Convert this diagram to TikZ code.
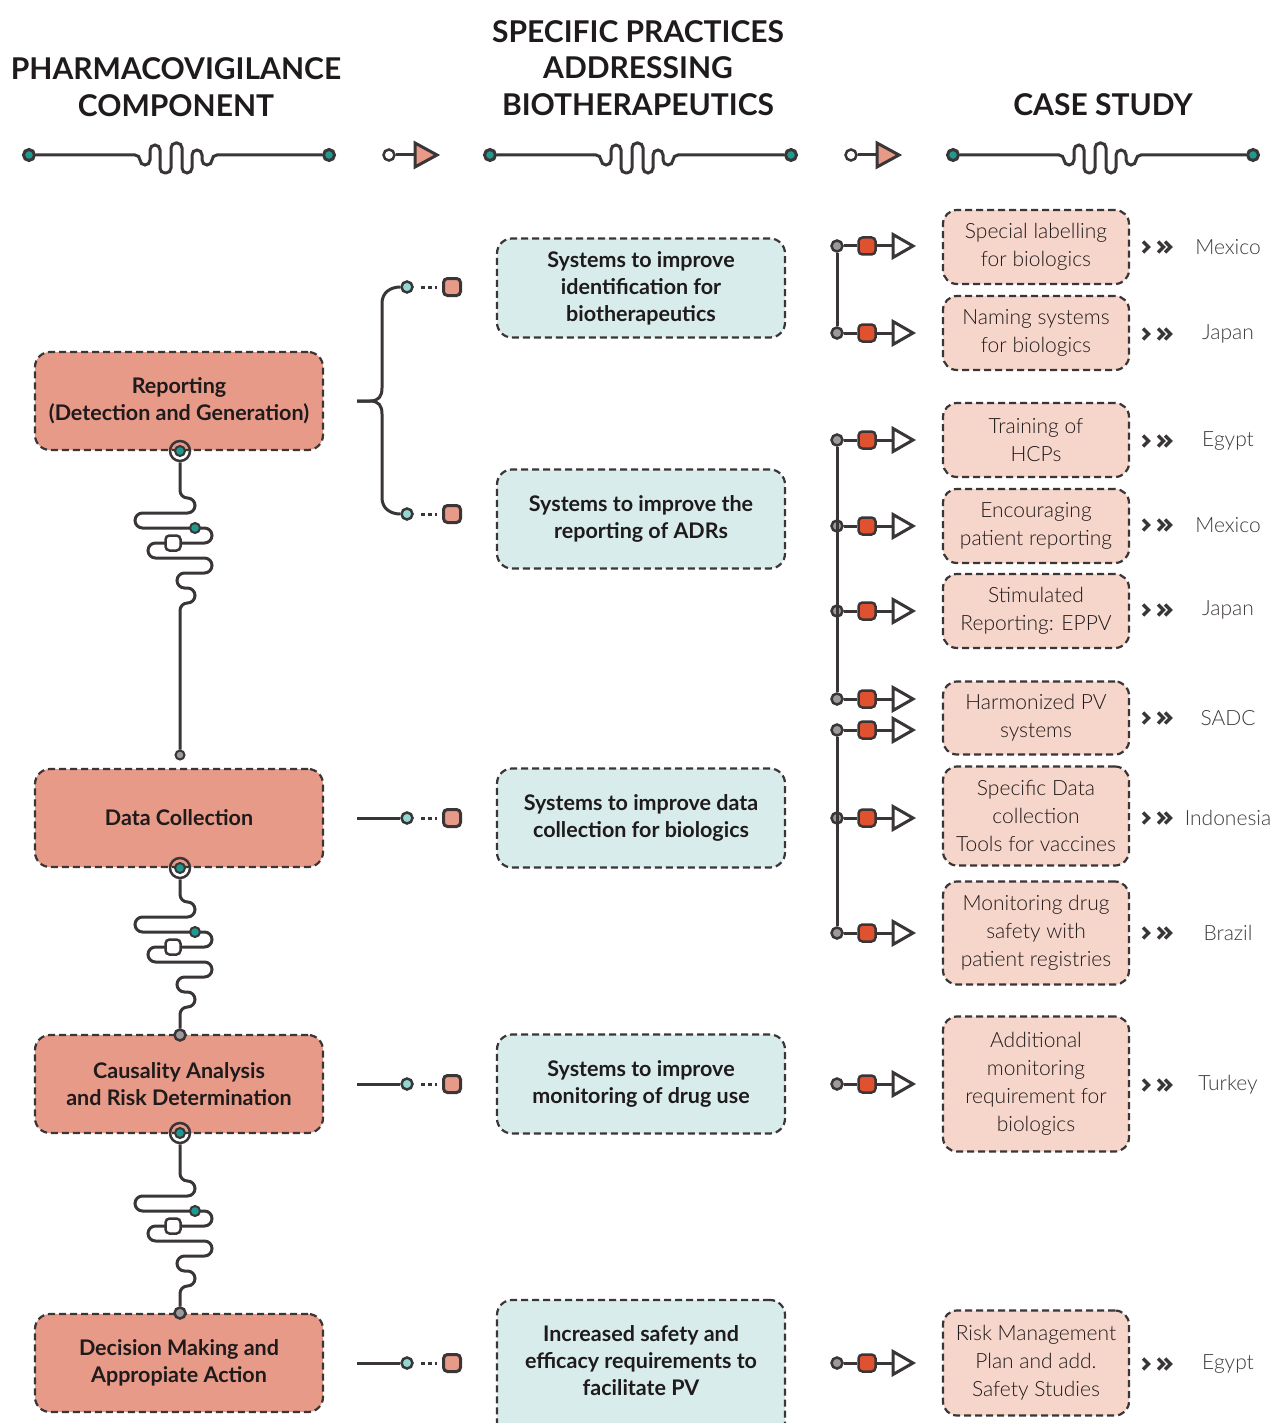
\documentclass[tikz,border=0pt]{standalone}
\usepackage{fontspec}
\setmainfont{Lato}
\newfontfamily\lightfont{Lato Light}
\definecolor{ink}{HTML}{3A3536}
\definecolor{txt}{HTML}{1F1A1B}
\definecolor{soft}{HTML}{3F3A3B}
\definecolor{salmon}{HTML}{E89A88}
\definecolor{blush}{HTML}{F6D5CA}
\definecolor{mint}{HTML}{D8EDEB}
\definecolor{teal}{HTML}{1E9A8F}
\definecolor{lteal}{HTML}{92D7D1}
\definecolor{redsq}{HTML}{E0522F}
\definecolor{greyd}{HTML}{9C9A9C}
\begin{document}
\begin{tikzpicture}[x=1pt,y=-1pt,
  wire/.style={draw=ink,line width=3pt},
  boxbase/.style={draw=ink,line width=2.2pt,dash pattern=on 7pt off 4pt,
    align=center,inner sep=0pt,text=txt},
  boldtext/.style={font=\bfseries\fontsize{21.5}{27}\selectfont},
  lbox/.style={boxbase,fill=salmon,rounded corners=15pt,minimum width=288pt,
    minimum height=98pt,boldtext},
  mbox/.style={boxbase,fill=mint,rounded corners=15pt,minimum width=288pt,
    minimum height=99pt,boldtext},
  rbox/.style={boxbase,fill=blush,rounded corners=14pt,minimum width=186pt,
    font=\lightfont\fontsize{21}{28}\selectfont},
  head/.style={align=center,text=txt,font=\bfseries\fontsize{30}{36.5}\selectfont},
  country/.style={text=soft,font=\lightfont\fontsize{21}{26}\selectfont},
  hdot/.style={circle,draw=ink,fill=teal,line width=3pt,minimum size=11pt,inner sep=0pt},
  wdot/.style={circle,draw=ink,fill=white,line width=2.5pt,minimum size=11pt,inner sep=0pt},
  gdot/.style={circle,draw=ink,fill=greyd,line width=2.5pt,minimum size=11pt,inner sep=0pt},
  ldot/.style={circle,draw=ink,fill=lteal,line width=2.5pt,minimum size=11pt,inner sep=0pt},
  tdot/.style={circle,draw=ink,fill=teal,line width=2pt,minimum size=10pt,inner sep=0pt},
  ring/.style={circle,draw=ink,line width=2.5pt,minimum size=20pt,inner sep=0pt},
  rsq/.style={draw=ink,fill=redsq,line width=2.5pt,rounded corners=4pt,minimum size=17pt,inner sep=0pt},
  ssq/.style={draw=ink,fill=salmon,line width=3pt,rounded corners=4pt,minimum size=17pt,inner sep=0pt},
  wsq/.style={draw=ink,fill=white,line width=2.5pt,rounded corners=4pt,minimum size=15pt,inner sep=0pt},
  dots/.style={draw=ink,line width=3pt,dash pattern=on 4pt off 3pt,shorten <=7.5pt,shorten >=5.5pt},
  tri/.pic={\draw[ink,line width=3pt,fill=white] (0,-11.5) -- (20,0) -- (0,11.5) -- cycle;},
  hdtri/.pic={\draw[ink,line width=3pt,fill=salmon] (0,-12) -- (22,0) -- (0,12) -- cycle;},
  chev/.pic={\draw[ink,line width=3.4pt] (0,-5.5) -- (5.5,0) -- (0,5.5);}
]
\useasboundingbox (0,0) rectangle (1277,1423);
\fill[white] (0,0) rectangle (1277,1423);

% ---------- column headings ----------
\node[head] (H1) at (176,87) {PHARMACOVIGILANCE\\COMPONENT};
\node[head] (H2) at (638,68) {SPECIFIC PRACTICES\\ADDRESSING\\BIOTHERAPEUTICS};
\node[head] (H3) at (1103,105) {CASE STUDY};

% heading rules with a wiggle in the middle
\node[hdot] (ha1) at (29,155) {};
\node[hdot] (ha2) at (329,155) {};
\node[hdot] (hb1) at (490,155) {};
\node[hdot] (hb2) at (791,155) {};
\node[hdot] (hc1) at (953,155) {};
\node[hdot] (hc2) at (1253,155) {};
\draw[wire,rounded corners=5pt] (ha1.east) -- (140,155) -- ++(0,10) -- ++(10,0) -- ++(0,-20) -- ++(10,0)
  -- ++(0,28) -- ++(11,0) -- ++(0,-30) -- ++(11,0) -- ++(0,30) -- ++(10,0) -- ++(0,-23) -- ++(10,0)
  -- ++(0,15) -- ++(10,0) -- ++(0,-10) -- (ha2.west);
\draw[wire,rounded corners=5pt] (hb1.east) -- (601,155) -- ++(0,10) -- ++(10,0) -- ++(0,-20) -- ++(10,0)
  -- ++(0,28) -- ++(11,0) -- ++(0,-30) -- ++(11,0) -- ++(0,30) -- ++(10,0) -- ++(0,-23) -- ++(10,0)
  -- ++(0,15) -- ++(10,0) -- ++(0,-10) -- (hb2.west);
\draw[wire,rounded corners=5pt] (hc1.east) -- (1064,155) -- ++(0,10) -- ++(10,0) -- ++(0,-20) -- ++(10,0)
  -- ++(0,28) -- ++(11,0) -- ++(0,-30) -- ++(11,0) -- ++(0,30) -- ++(10,0) -- ++(0,-23) -- ++(10,0)
  -- ++(0,15) -- ++(10,0) -- ++(0,-10) -- (hc2.west);

% small arrows between the headings
\node[wdot] (ka) at (389,155) {};
\coordinate (kat) at (415,155);
\draw[wire] (ka.east) -- (kat);
\pic at (kat) {hdtri};
\node[wdot] (kb) at (851,155) {};
\coordinate (kbt) at (877,155);
\draw[wire] (kb.east) -- (kbt);
\pic at (kbt) {hdtri};

% ---------- left column ----------
\node[lbox] (L1) at (179,401) {Reporting\\(Detection and Generation)};
\node[lbox] (L2) at (179,818) {Data Collection};
\node[lbox] (L3) at (179,1084) {Causality Analysis\\and Risk Determination};
\node[lbox] (L4) at (179,1363) {Decision Making and\\Appropiate Action};

% meandering links between the components
\node[ring] (r1) at (180,451) {};
\node[tdot] at (r1) {};
\node[gdot,minimum size=9pt,line width=2pt] (e1) at (180,755) {};
\draw[wire,rounded corners=7.5pt] (r1.south) -- (180,498) -- (195,498) -- (195,513) -- (135,513)
  -- (135,528) -- (212,528) -- (212,543) -- (148,543) -- (148,558) -- (212,558) -- (212,573)
  -- (177,573) -- (177,588) -- (195,588) -- (195,603) -- (180,603) -- (e1.north);
\node[tdot] (m1) at (195,528) {};
\node[wsq] (n1) at (173,543) {};

\node[ring] (r2) at (180,868) {};
\node[tdot] at (r2) {};
\node[gdot] (e2) at (180,1035) {};
\draw[wire,rounded corners=7.5pt] (r2.south) -- (180,902) -- (195,902) -- (195,917) -- (135,917)
  -- (135,932) -- (212,932) -- (212,947) -- (148,947) -- (148,962) -- (212,962) -- (212,977)
  -- (177,977) -- (177,992) -- (195,992) -- (195,1007) -- (180,1007) -- (e2.north);
\node[tdot] (m2) at (195,932) {};
\node[wsq] (n2) at (173,947) {};

\node[ring] (r3) at (180,1133) {};
\node[tdot] at (r3) {};
\node[gdot] (e3) at (180,1313) {};
\draw[wire,rounded corners=7.5pt] (r3.south) -- (180,1181) -- (195,1181) -- (195,1196) -- (135,1196)
  -- (135,1211) -- (212,1211) -- (212,1226) -- (148,1226) -- (148,1241) -- (212,1241) -- (212,1256)
  -- (177,1256) -- (177,1271) -- (195,1271) -- (195,1286) -- (180,1286) -- (e3.north);
\node[tdot] (m3) at (195,1211) {};
\node[wsq] (n3) at (173,1226) {};

% ---------- middle column ----------
\node[mbox] (M1) at (641,288) {Systems to improve\\identification for\\biotherapeutics};
\node[mbox] (M2) at (641,519) {Systems to improve the\\reporting of ADRs};
\node[mbox] (M3) at (641,818) {Systems to improve data\\collection for biologics};
\node[mbox] (M4) at (641,1084) {Systems to improve\\monitoring of drug use};
% last practice box runs past the lower edge
\node[mbox,minimum height=140pt] (M5) at (641,1370) {};
\node[align=center,text=txt,boldtext] (M5t) at (641,1361) {Increased safety and\\efficacy requirements to\\facilitate PV};

% links from components to practices
\foreach \i/\y in {1/287,2/514,3/818,4/1084,5/1363}{
  \node[ldot] (d\i) at (407,\y) {};
  \node[ssq] (s\i) at (452,\y) {};
  \draw[dots] (d\i) -- (s\i);
}
\coordinate (b1) at (357,401);
\draw[wire] (b1) -- (370,401) .. controls (379,401) and (382,396) .. (382,388) -- (382,303)
  .. controls (382,293) and (390,287) .. (d1.west);
\draw[wire] (b1) -- (370,401) .. controls (379,401) and (382,406) .. (382,414) -- (382,498)
  .. controls (382,508) and (390,514) .. (d2.west);
\coordinate (b3) at (357,818);
\draw[wire] (b3) -- (d3.west);
\coordinate (b4) at (357,1084);
\draw[wire] (b4) -- (d4.west);
\coordinate (b5) at (357,1363);
\draw[wire] (b5) -- (d5.west);

% ---------- case studies ----------
\node[rbox,minimum height=74pt] (R1) at (1036,247) {Special labelling\\for biologics};
\node[rbox,minimum height=74pt] (R2) at (1036,333) {Naming systems\\for biologics};
\node[rbox,minimum height=74pt] (R3) at (1036,440) {Training of\\HCPs};
\node[rbox,minimum height=74pt] (R4) at (1036,526) {Encouraging\\patient reporting};
\node[rbox,minimum height=74pt] (R5) at (1036,611) {Stimulated\\Reporting: EPPV};
\node[rbox,minimum height=73pt] (R6) at (1036,718) {Harmonized PV\\systems};
\node[rbox,minimum height=99pt] (R7) at (1036,816) {Specific Data\\collection\\Tools for vaccines};
\node[rbox,minimum height=103pt] (R8) at (1036,933) {Monitoring drug\\safety with\\patient registries};
\node[rbox,minimum height=135pt] (R9) at (1036,1084) {Additional\\monitoring\\requirement for\\biologics};
\node[rbox,minimum height=105pt] (R10) at (1036,1363) {Risk Management\\Plan and add.\\Safety Studies};

% arrow markers in front of the case studies
\foreach \i/\y in {1/246,2/333,3/440,4/526,5/611,6/699,7/730,8/818,9/933,10/1084,11/1363}{
  \node[gdot] (g\i) at (837,\y) {};
  \node[rsq] (q\i) at (867,\y) {};
  \coordinate (t\i) at (893,\y);
  \draw[wire] (g\i.east) -- (q\i.west);
  \draw[wire] (q\i.east) -- (t\i);
  \pic at (t\i) {tri};
}
\draw[wire] (g1.south) -- (g2.north);
\draw[wire] (g3.south) -- (g6.north);
\draw[wire] (g7.south) -- (g9.north);

% countries
\foreach \i/\y/\c in {1/247/Mexico,2/334/Japan,3/441/Egypt,4/525/Mexico,5/610/Japan,
    6/718/SADC,7/818/Indonesia,8/933/Brazil,9/1085/Turkey,10/1364/Egypt}{
  \pic at (1143,\y) {chev};
  \pic at (1158,\y) {chev};
  \pic at (1165,\y) {chev};
  \node[country] (C\i) at (1228,\y) {\c};
}
\end{tikzpicture}
\end{document}
